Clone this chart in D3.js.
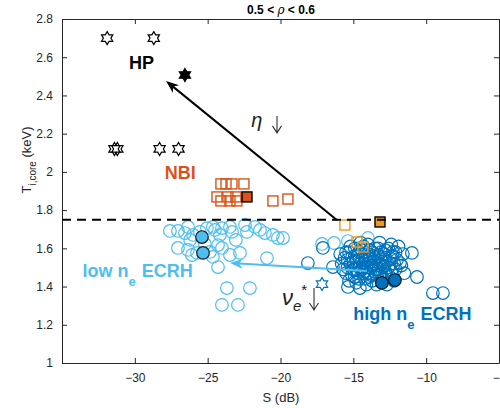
<!DOCTYPE html>
<html>
<head>
<meta charset="utf-8">
<script src="https://cdn.jsdelivr.net/npm/d3@7"></script>
<style>
  body { margin: 0; background: #fff; }
  text { font-family: "Liberation Sans", Arial, sans-serif; }
</style>
</head>
<body>
<script>
const width = 500;
const height = 408;

// ---- data (S in dB, Ti,core in keV) ----
const hpStars = [[-31.9, 2.70], [-28.7, 2.70], [-31.4, 2.12], [-31.2, 2.12], [-28.3, 2.12], [-27.0, 2.12]];
const hpFilled = [[-26.56, 2.507]];

const nbiSquares = [[-24.09, 1.937], [-23.74, 1.937], [-23.33, 1.937], [-22.51, 1.937],
  [-24.36, 1.869], [-23.61, 1.869], [-23.06, 1.869], [-24.09, 1.848], [-23.47, 1.848],
  [-22.99, 1.848], [-20.52, 1.848], [-19.49, 1.858]];
const nbiFilled = [[-22.30, 1.869]];

const orangeSquares = [[-15.58, 1.722], [-14.75, 1.633], [-14.34, 1.607]];
const orangeFilled = [[-13.17, 1.738]];

const lowNe = [[-27.59, 1.691], [-27.04, 1.691], [-26.35, 1.712], [-26.0, 1.67], [-26.2, 1.644],
  [-25.05, 1.706], [-24.64, 1.712], [-24.5, 1.696], [-24.16, 1.67], [-24.02, 1.706],
  [-23.47, 1.712], [-23.33, 1.686], [-22.44, 1.722], [-22.30, 1.686], [-21.75, 1.712],
  [-21.41, 1.696], [-21.07, 1.680], [-20.52, 1.670], [-20.18, 1.654], [-19.83, 1.654],
  [-27.04, 1.602], [-26.35, 1.592], [-26.08, 1.565], [-25.73, 1.576], [-24.84, 1.581],
  [-24.64, 1.555], [-24.02, 1.602], [-24.29, 1.617], [-23.47, 1.565], [-22.78, 1.576],
  [-24.29, 1.502], [-20.93, 1.549], [-23.68, 1.392], [-22.10, 1.392], [-24.02, 1.304],
  [-22.92, 1.304], [-17.15, 1.623], [-16.33, 1.628], [-15.37, 1.638], [-14.0, 1.654],
  [-25.53, 1.686], [-23.06, 1.644], [-25.19, 1.623], [-26.56, 1.68]];
const lowNeFilled = [[-25.39, 1.659], [-25.32, 1.576]];

const highNe = [[-17.09, 1.602], [-18.12, 1.523], [-16.40, 1.502], [-15.37, 1.398], [-14.55, 1.392],
  [-10.98, 1.576], [-10.63, 1.450], [-9.54, 1.366], [-8.85, 1.366], [-12.28, 1.581], [-11.80, 1.523],
  [-15.6, 1.55], [-15.4, 1.50], [-15.3, 1.58], [-15.1, 1.46], [-15.0, 1.53], [-14.9, 1.60],
  [-14.8, 1.49], [-14.7, 1.56], [-14.6, 1.44], [-14.5, 1.52], [-14.4, 1.59], [-14.3, 1.47],
  [-14.2, 1.55], [-14.1, 1.50], [-14.0, 1.62], [-13.9, 1.45], [-13.8, 1.53], [-13.7, 1.58],
  [-13.6, 1.48], [-13.5, 1.55], [-13.4, 1.51], [-13.3, 1.60], [-13.2, 1.46], [-13.1, 1.54],
  [-13.0, 1.50], [-12.9, 1.57], [-12.8, 1.48], [-12.7, 1.53], [-12.6, 1.60], [-12.5, 1.45],
  [-12.4, 1.52], [-12.3, 1.56], [-12.1, 1.49], [-12.0, 1.54], [-11.9, 1.61], [-11.7, 1.51],
  [-15.2, 1.52], [-14.9, 1.56], [-14.6, 1.50], [-14.4, 1.54], [-14.2, 1.48], [-14.0, 1.57],
  [-13.8, 1.50], [-13.6, 1.53], [-13.4, 1.46], [-13.3, 1.56], [-13.0, 1.53], [-12.8, 1.55],
  [-12.6, 1.50], [-13.9, 1.55], [-13.5, 1.49], [-13.1, 1.58], [-14.3, 1.61], [-14.8, 1.42],
  [-13.7, 1.43], [-12.9, 1.44], [-12.2, 1.43], [-15.5, 1.47], [-15.8, 1.52], [-15.9, 1.57],
  [-14.5, 1.63], [-13.2, 1.63], [-12.4, 1.62], [-11.6, 1.57], [-11.5, 1.47], [-14.1, 1.41],
  [-13.4, 1.41], [-12.7, 1.41], [-15.3, 1.43],
  [-15.7, 1.49], [-15.5, 1.58], [-15.2, 1.61], [-15.0, 1.49], [-14.8, 1.53], [-14.7, 1.47],
  [-14.6, 1.58], [-14.4, 1.49], [-14.3, 1.52], [-14.1, 1.54], [-14.0, 1.47], [-13.9, 1.59],
  [-13.8, 1.46], [-13.7, 1.51], [-13.6, 1.56], [-13.5, 1.60], [-13.3, 1.49], [-13.2, 1.52],
  [-13.1, 1.47], [-12.9, 1.51], [-12.8, 1.59], [-12.7, 1.46], [-12.5, 1.55], [-12.4, 1.48],
  [-12.2, 1.52], [-12.1, 1.58], [-14.9, 1.45], [-15.4, 1.54], [-13.0, 1.44], [-14.2, 1.44]];
const highNeFilled = [[-13.04, 1.419], [-12.14, 1.434]];
const blueStar = [[-17.15, 1.413]];

const threshold = 1.75;
const etaArrow = [[-16.13, 1.748], [-27.86, 2.476]];
const nuArrow = [[-14.07, 1.481], [-23.47, 1.523]];
// small "decreasing" arrows next to the symbols: [x, yTop, yBottom]
const etaDown = [-20.24, 2.293, 2.204];
const nuDown = [-17.70, 1.392, 1.277];

const xTicks = [-30, -25, -20, -15, -10, -5];
const yTicks = [1, 1.2, 1.4, 1.6, 1.8, 2, 2.2, 2.4, 2.6, 2.8];

// colours
const cLow = '#4DBEEE', cHigh = '#0072BD', cNbi = '#D95319', cOr = '#EE9A1A';

const svg = d3.select('body').append('svg').attr('width', width).attr('height', height);

const x = d3.scaleLinear().domain([-35, -5]).range([62, 499]);
const y = d3.scaleLinear().domain([1, 2.8]).range([363, 19]);

// axes box
const axCol = '#262626';
svg.append('g').attr('transform', `translate(0,${y(1)})`)
  .call(d3.axisBottom(x).tickValues(xTicks).tickSizeInner(-5).tickSizeOuter(0).tickPadding(10))
  .call(g => { g.select('.domain').attr('stroke', axCol); g.selectAll('line').attr('stroke', axCol);
    g.selectAll('text').attr('font-size', 12).attr('fill', axCol); });
svg.append('g').attr('transform', `translate(0,${y(2.8)})`)
  .call(d3.axisTop(x).tickValues(xTicks).tickSizeInner(-5).tickSizeOuter(0).tickFormat(''))
  .call(g => { g.select('.domain').attr('stroke', axCol); g.selectAll('line').attr('stroke', axCol); });
svg.append('g').attr('transform', `translate(${x(-35)},0)`)
  .call(d3.axisLeft(y).tickValues(yTicks).tickSizeInner(-5).tickSizeOuter(0).tickPadding(9).tickFormat(d3.format('')))
  .call(g => { g.select('.domain').attr('stroke', axCol); g.selectAll('line').attr('stroke', axCol);
    g.selectAll('text').attr('font-size', 12).attr('fill', axCol); });
svg.append('g').attr('transform', `translate(${x(-5)},0)`)
  .call(d3.axisRight(y).tickValues(yTicks).tickSizeInner(-5).tickSizeOuter(0).tickFormat(''))
  .call(g => { g.select('.domain').attr('stroke', axCol); g.selectAll('line').attr('stroke', axCol); });

// title and axis labels
svg.append('text').attr('x', 281).attr('y', 14).attr('text-anchor', 'middle')
  .attr('font-size', 12).attr('font-weight', 'bold').attr('fill', '#000')
  .html('0.5 &lt; <tspan font-style="italic" font-weight="normal" font-family="DejaVu Serif">ρ</tspan> &lt; 0.6');
svg.append('text').attr('x', 281).attr('y', 402).attr('text-anchor', 'middle')
  .attr('font-size', 13).attr('fill', axCol).text('S (dB)');
const yl = svg.append('text').attr('transform', 'translate(31,160) rotate(-90)')
  .attr('text-anchor', 'middle').attr('font-size', 13).attr('fill', axCol);
yl.append('tspan').text('T');
yl.append('tspan').attr('dy', 5).attr('font-size', 10).text('i,core');
yl.append('tspan').attr('dy', -5).text(' (keV)');

const plot = svg.append('g');

function hexagram(r) {
  const pts = [];
  for (let i = 0; i < 12; i++) {
    const a = -Math.PI / 2 + i * Math.PI / 6;
    const rr = i % 2 ? r * 0.577 : r;
    pts.push([rr * Math.cos(a), rr * Math.sin(a)]);
  }
  return 'M' + pts.map(p => p.join(',')).join('L') + 'Z';
}

function circles(data, stroke, fill) {
  plot.append('g').selectAll('circle').data(data).enter().append('circle')
    .attr('cx', d => x(d[0])).attr('cy', d => y(d[1])).attr('r', 6.3)
    .attr('fill', fill).attr('stroke', stroke).attr('stroke-width', 1.2);
}
function squares(data, stroke, fill) {
  plot.append('g').selectAll('rect').data(data).enter().append('rect')
    .attr('x', d => x(d[0]) - 5).attr('y', d => y(d[1]) - 5).attr('width', 10).attr('height', 10)
    .attr('fill', fill).attr('stroke', stroke).attr('stroke-width', 1.4);
}
function stars(data, stroke, fill) {
  plot.append('g').selectAll('path').data(data).enter().append('path')
    .attr('transform', d => `translate(${x(d[0])},${y(d[1])})`)
    .attr('d', hexagram(6.5)).attr('fill', fill).attr('stroke', stroke).attr('stroke-width', 1.2);
}

circles(lowNe, cLow, 'none');
circles(highNe, cHigh, 'none');
squares(nbiSquares, cNbi, 'none');
squares(orangeSquares, cOr, 'none');
stars(hpStars, '#000', 'none');
stars(hpFilled, '#000', '#000');
stars(blueStar, cHigh, 'none');
circles(lowNeFilled, '#1a1a1a', cLow);
circles(highNeFilled, '#1a1a1a', cHigh);
squares(nbiFilled, '#000', cNbi);
squares(orangeFilled, '#000', cOr);

// threshold line
plot.append('line').attr('x1', x(-35)).attr('x2', x(-5)).attr('y1', y(threshold)).attr('y2', y(threshold))
  .attr('stroke', '#000').attr('stroke-width', 2).attr('stroke-dasharray', '9,6');

// arrows
function arrow(pts, col) {
  const p0 = [x(pts[0][0]), y(pts[0][1])], p1 = [x(pts[1][0]), y(pts[1][1])];
  const a = Math.atan2(p1[1] - p0[1], p1[0] - p0[0]);
  const L = 13, W = 5, back = 9;
  const bx = p1[0] - back * Math.cos(a), by = p1[1] - back * Math.sin(a);
  plot.append('line').attr('x1', p0[0]).attr('y1', p0[1]).attr('x2', bx).attr('y2', by)
    .attr('stroke', col).attr('stroke-width', 2);
  const ux = Math.cos(a), uy = Math.sin(a);
  const head = [
    p1,
    [p1[0] - L * ux - W * uy, p1[1] - L * uy + W * ux],
    [bx, by],
    [p1[0] - L * ux + W * uy, p1[1] - L * uy - W * ux]
  ];
  plot.append('path').attr('d', 'M' + head.map(p => p.join(',')).join('L') + 'Z').attr('fill', col);
}
arrow(etaArrow, '#000');
arrow(nuArrow, cLow);

// thin "down" arrow glyph
function downArrow(d) {
  const cx = x(d[0]), t = y(d[1]), b = y(d[2]);
  plot.append('path')
    .attr('d', `M${cx},${t}L${cx},${b}M${cx - 4.5},${b - 7}L${cx},${b}L${cx + 4.5},${b - 7}`)
    .attr('fill', 'none').attr('stroke', '#333').attr('stroke-width', 1.1);
}
downArrow(etaDown);
downArrow(nuDown);

// annotations
function label(px, py, txt, col) {
  return plot.append('text').attr('x', x(px)).attr('y', y(py)).attr('font-size', 18)
    .attr('font-weight', 'bold').attr('fill', col).text(txt);
}
label(-30.4, 2.54, 'HP', '#000');
label(-27.95, 1.965, 'NBI', cNbi);
const lo = label(-33.6, 1.45, 'low n', cLow);
lo.append('tspan').attr('dy', 9).attr('font-size', 13).text('e');
lo.append('tspan').attr('dy', -9).attr('dx', 1).text(' ECRH');
const hi = label(-15.0, 1.225, 'high n', cHigh);
hi.append('tspan').attr('dy', 9).attr('font-size', 13).text('e');
hi.append('tspan').attr('dy', -9).attr('dx', 1).text(' ECRH');

plot.append('text').attr('x', x(-22.0)).attr('y', y(2.235)).attr('font-family', 'DejaVu Serif')
  .attr('font-size', 20).attr('font-style', 'italic').attr('fill', '#222').text('η');
const nu = plot.append('text').attr('x', x(-19.9)).attr('y', y(1.305)).attr('font-family', 'DejaVu Serif')
  .attr('font-size', 22).attr('fill', '#222');
nu.append('tspan').attr('font-style', 'italic').text('ν');
nu.append('tspan').attr('dy', 6).attr('font-size', 15).attr('font-style', 'italic').text('e');
nu.append('tspan').attr('dy', -16).attr('font-size', 15).text('*');
</script>
</body>
</html>
